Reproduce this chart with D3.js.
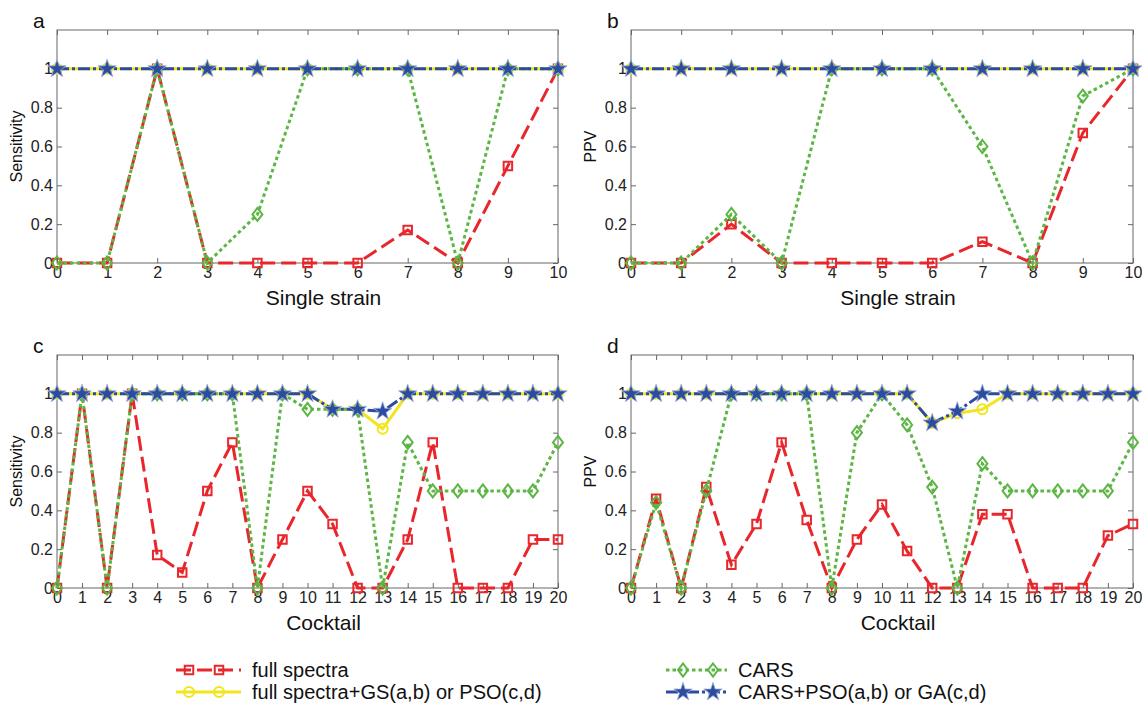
<!DOCTYPE html>
<html>
<head>
<meta charset="utf-8">
<script src="https://cdn.jsdelivr.net/npm/d3@7"></script>
<style>
  body { margin: 0; background: #fff; }
  svg { display: block; font-family: "Liberation Sans", Arial, sans-serif; }
</style>
</head>
<body>
<div id="chart"></div>
<script>
const width = 1142;
const height = 706;

// x values
const strains = d3.range(0, 11);
const cocktails = d3.range(0, 21);

// panel a: sensitivity, single strain
const aFull = [0, 0, 1, 0, 0, 0, 0, 0.17, 0, 0.5, 1];
const aFullGS = [1, 1, 1, 1, 1, 1, 1, 1, 1, 1, 1];
const aCars = [0, 0, 1, 0, 0.25, 1, 1, 1, 0, 1, 1];
const aCarsPSO = [1, 1, 1, 1, 1, 1, 1, 1, 1, 1, 1];

// panel b: PPV, single strain
const bFull = [0, 0, 0.2, 0, 0, 0, 0, 0.11, 0, 0.67, 1];
const bFullGS = [1, 1, 1, 1, 1, 1, 1, 1, 1, 1, 1];
const bCars = [0, 0, 0.25, 0, 1, 1, 1, 0.6, 0, 0.86, 1];
const bCarsPSO = [1, 1, 1, 1, 1, 1, 1, 1, 1, 1, 1];

// panel c: sensitivity, cocktail
const cFull = [0, 1, 0, 1, 0.17, 0.08, 0.5, 0.75, 0, 0.25, 0.5, 0.33, 0, 0, 0.25, 0.75, 0, 0, 0, 0.25, 0.25];
const cFullPSO = [1, 1, 1, 1, 1, 1, 1, 1, 1, 1, 1, 0.92, 0.92, 0.82, 1, 1, 1, 1, 1, 1, 1];
const cCars = [0, 1, 0, 1, 1, 1, 1, 1, 0, 1, 0.92, 0.92, 0.92, 0, 0.75, 0.5, 0.5, 0.5, 0.5, 0.5, 0.75];
const cCarsGA = [1, 1, 1, 1, 1, 1, 1, 1, 1, 1, 1, 0.92, 0.92, 0.91, 1, 1, 1, 1, 1, 1, 1];

// panel d: PPV, cocktail
const dFull = [0, 0.46, 0, 0.52, 0.12, 0.33, 0.75, 0.35, 0, 0.25, 0.43, 0.19, 0, 0, 0.38, 0.38, 0, 0, 0, 0.27, 0.33];
const dFullPSO = [1, 1, 1, 1, 1, 1, 1, 1, 1, 1, 1, 1, 0.85, 0.9, 0.92, 1, 1, 1, 1, 1, 1];
const dCars = [0, 0.44, 0, 0.5, 1, 1, 1, 1, 0, 0.8, 1, 0.84, 0.52, 0, 0.64, 0.5, 0.5, 0.5, 0.5, 0.5, 0.75];
const dCarsGA = [1, 1, 1, 1, 1, 1, 1, 1, 1, 1, 1, 1, 0.85, 0.91, 1, 1, 1, 1, 1, 1, 1];

const yTicks = [0, 0.2, 0.4, 0.6, 0.8, 1];
const legendLabels = ["full spectra", "full spectra+GS(a,b) or PSO(c,d)", "CARS", "CARS+PSO(a,b) or GA(c,d)"];

const red = "#e8262b", yellow = "#f1e61c", green = "#5bb643", blue = "#2c4c9f";

const panels = [
  { id: "a", x: strains, series: [aFull, aFullGS, aCars, aCarsPSO], ylabel: "Sensitivity", xlabel: "Single strain", left: 57, right: 558, top: 30, bottom: 263 },
  { id: "b", x: strains, series: [bFull, bFullGS, bCars, bCarsPSO], ylabel: "PPV", xlabel: "Single strain", left: 631, right: 1133, top: 30, bottom: 263 },
  { id: "c", x: cocktails, series: [cFull, cFullPSO, cCars, cCarsGA], ylabel: "Sensitivity", xlabel: "Cocktail", left: 57, right: 558, top: 355, bottom: 588 },
  { id: "d", x: cocktails, series: [dFull, dFullPSO, dCars, dCarsGA], ylabel: "PPV", xlabel: "Cocktail", left: 631, right: 1133, top: 355, bottom: 588 }
];

const styles = [
  { color: red, dash: "15,6", marker: "square" },
  { color: yellow, dash: null, marker: "circle" },
  { color: green, dash: "3.5,3", marker: "diamond" },
  { color: blue, dash: "12,3,3,3", marker: "star" }
];

const svg = d3.select("#chart").append("svg")
  .attr("width", width)
  .attr("height", height);

const starPath = d3.symbol().type(d3.symbolStar).size(105)();
const squarePath = d3.symbol().type(d3.symbolSquare).size(72)();

function drawMarker(g, type, cx, cy, color) {
  if (type === "square") {
    g.append("path").attr("d", squarePath)
      .attr("transform", `translate(${cx},${cy})`)
      .attr("fill", "none").attr("stroke", color).attr("stroke-width", 2);
  } else if (type === "circle") {
    g.append("circle").attr("cx", cx).attr("cy", cy).attr("r", 5)
      .attr("fill", "none").attr("stroke", color).attr("stroke-width", 2);
  } else if (type === "diamond") {
    g.append("path").attr("d", "M0,-6.5L5,0L0,6.5L-5,0Z")
      .attr("transform", `translate(${cx},${cy})`)
      .attr("fill", "none").attr("stroke", color).attr("stroke-width", 2);
  } else {
    g.append("path").attr("d", starPath)
      .attr("transform", `translate(${cx},${cy})`)
      .attr("fill", color).attr("stroke", "#9db0dc").attr("stroke-width", 0.8);
  }
}

const fmt = d => (d === 0 || d === 1) ? String(d) : d3.format(".1f")(d);

panels.forEach(p => {
  const x = d3.scaleLinear().domain([0, p.x.length - 1]).range([p.left, p.right]);
  const y = d3.scaleLinear().domain([0, 1.2]).range([p.bottom, p.top]);
  const g = svg.append("g");

  // frame
  g.append("rect")
    .attr("x", p.left).attr("y", p.top)
    .attr("width", p.right - p.left).attr("height", p.bottom - p.top)
    .attr("fill", "none").attr("stroke", "#666").attr("stroke-width", 1);

  const axStyle = sel => {
    sel.select(".domain").remove();
    sel.selectAll(".tick line").attr("stroke", "#666");
    sel.selectAll(".tick text").attr("fill", "#222").style("font-size", "16px")
      .style("font-family", "Liberation Sans, Arial, sans-serif");
  };

  g.append("g").attr("transform", `translate(0,${p.bottom})`)
    .call(d3.axisBottom(x).tickValues(p.x).tickSize(-5).tickPadding(4).tickFormat(d3.format("d")))
    .call(axStyle);
  g.append("g").attr("transform", `translate(0,${p.top})`)
    .call(d3.axisTop(x).tickValues(p.x).tickSize(-5).tickFormat(""))
    .call(axStyle);
  g.append("g").attr("transform", `translate(${p.left},0)`)
    .call(d3.axisLeft(y).tickValues(yTicks).tickSize(-5).tickPadding(4).tickFormat(fmt))
    .call(axStyle);
  g.append("g").attr("transform", `translate(${p.right},0)`)
    .call(d3.axisRight(y).tickValues(yTicks).tickSize(-5).tickFormat(""))
    .call(axStyle);

  // series
  p.series.forEach((vals, i) => {
    const st = styles[i];
    const pts = vals.map((v, k) => [x(p.x[k]), y(v)]);
    g.append("path")
      .attr("d", d3.line()(pts))
      .attr("fill", "none")
      .attr("stroke", st.color)
      .attr("stroke-width", 3)
      .attr("stroke-dasharray", st.dash);
    pts.forEach(pt => drawMarker(g, st.marker, pt[0], pt[1], st.color));
  });

  // labels
  g.append("text")
    .attr("x", (p.left + p.right) / 2 + 16)
    .attr("y", p.bottom + 42)
    .attr("text-anchor", "middle")
    .style("font-size", "21px")
    .attr("fill", "#111")
    .text(p.xlabel);

  g.append("text")
    .attr("transform", `translate(${p.left - 35},${(p.top + p.bottom) / 2}) rotate(-90)`)
    .attr("text-anchor", "middle")
    .style("font-size", "16px")
    .attr("fill", "#111")
    .text(p.ylabel);

  g.append("text")
    .attr("x", p.left - 24)
    .attr("y", p.top - 2)
    .style("font-size", "21px")
    .attr("fill", "#111")
    .text(p.id);
});

// legend
const legendItems = [
  { col: 0, row: 0, style: styles[0], label: legendLabels[0] },
  { col: 0, row: 1, style: styles[1], label: legendLabels[1] },
  { col: 1, row: 0, style: styles[2], label: legendLabels[2] },
  { col: 1, row: 1, style: styles[3], label: legendLabels[3] }
];
const legendCols = [{ x0: 176, x1: 241, m: [189, 219], tx: 252 }, { x0: 666, x1: 727, m: [683, 713], tx: 738 }];
const legend = svg.append("g");
legendItems.forEach(it => {
  const c = legendCols[it.col];
  const ly = 670 + it.row * 22;
  legend.append("line")
    .attr("x1", c.x0).attr("x2", c.x1).attr("y1", ly).attr("y2", ly)
    .attr("stroke", it.style.color).attr("stroke-width", 3)
    .attr("stroke-dasharray", it.style.dash);
  c.m.forEach(mx => drawMarker(legend, it.style.marker, mx, ly, it.style.color));
  legend.append("text")
    .attr("x", c.tx).attr("y", ly + 7)
    .style("font-size", "20px")
    .attr("fill", "#111")
    .text(it.label);
});
</script>
</body>
</html>
